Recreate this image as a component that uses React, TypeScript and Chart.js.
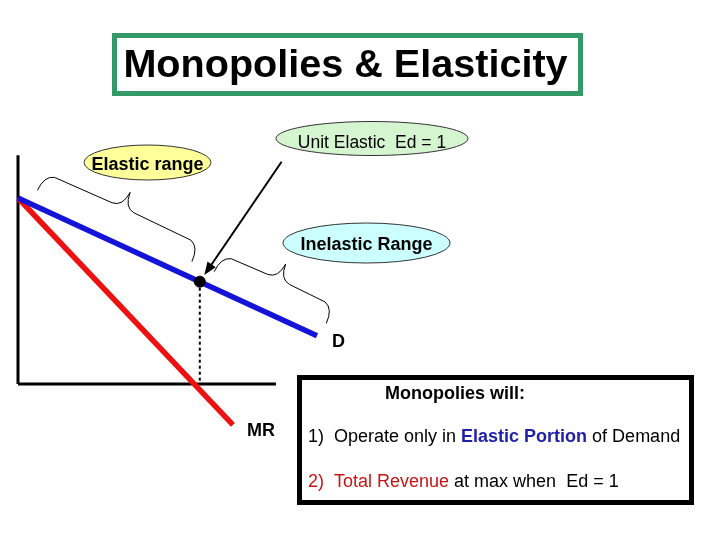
import React, { useEffect, useRef } from "react";
import { Chart, registerables } from "chart.js";

Chart.register(...registerables);

// ---- Data (Q = quantity, P = price) ----
const demandQ = [0, 14.8];
const demandP = [10, 2.6];
const mrQ = [0, 10.64];
const mrP = [10, -2.2];
const unitElasticQ = [9];
const unitElasticP = [5.5];
const priceAxisTop = 12.3;
const quantityAxisEnd = 12.77;
const elasticBraceQ = [0.65, 8.3];
const inelasticBraceQ = [9.4, 14.95];
const arrowStartQP = [13.05, 11.95];

const titleText = "Monopolies & Elasticity";
const unitLabel = "Unit Elastic  Ed = 1";
const elasticLabel = "Elastic range";
const inelasticLabel = "Inelastic Range";
const demandLabel = "D";
const mrLabel = "MR";
const boxHeading = "Monopolies will:";
const boxLine1 = [
  { t: "1)  Operate only in ", c: "#000000", b: false },
  { t: "Elastic Portion", c: "#1f1fa8", b: true },
  { t: " of Demand", c: "#000000", b: false },
];
const boxLine2 = [
  { t: "2)  Total Revenue", c: "#c81414", b: false },
  { t: " at max when  Ed = 1", c: "#000000", b: false },
];

// ---- Layout constants ----
const W = 720;
const H = 540;
const X_ORIGIN_PX = 18;
const Y_ORIGIN_PX = 384;
const PX_PER_Q = 20.2;
const PX_PER_P = 18.6;
const FONT = "'Liberation Sans', Arial, sans-serif";

const demandAt = (q: number) =>
  demandP[0] + ((demandP[1] - demandP[0]) * (q - demandQ[0])) / (demandQ[1] - demandQ[0]);

const pts = (xs: number[], ys: number[]) => xs.map((x, i) => ({ x, y: ys[i] }));

function drawEllipseLabel(ctx: CanvasRenderingContext2D, cx: number, cy: number, rx: number, ry: number, fill: string, text: string, bold: boolean, size: number, baseline: number) {
  ctx.save();
  ctx.beginPath();
  ctx.ellipse(cx, cy, rx, ry, 0, 0, Math.PI * 2);
  ctx.fillStyle = fill;
  ctx.fill();
  ctx.lineWidth = 1;
  ctx.strokeStyle = "#333333";
  ctx.stroke();
  ctx.fillStyle = "#000000";
  ctx.font = `${bold ? "bold " : ""}${size}px ${FONT}`;
  ctx.textAlign = "center";
  ctx.textBaseline = "alphabetic";
  ctx.fillText(text, cx, baseline);
  ctx.restore();
}

function drawBrace(ctx: CanvasRenderingContext2D, chart: any, q1: number, q2: number) {
  const xs = chart.scales.x;
  const ys = chart.scales.y;
  const ax = xs.getPixelForValue(q1);
  const ay = ys.getPixelForValue(demandAt(q1));
  const bx = xs.getPixelForValue(q2);
  const by = ys.getPixelForValue(demandAt(q2));
  const L = Math.hypot(bx - ax, by - ay);
  const ux = (bx - ax) / L;
  const uy = (by - ay) / L;
  const nx = uy;
  const ny = -ux;
  const P = (s: number, v: number): [number, number] => [ax + ux * s + nx * v, ay + uy * s + ny * v];
  const m = L / 2;
  ctx.save();
  ctx.beginPath();
  ctx.strokeStyle = "#000000";
  ctx.lineWidth = 1;
  let p = P(0, 15);
  ctx.moveTo(p[0], p[1]);
  let c = P(0, 31);
  p = P(10, 34);
  ctx.quadraticCurveTo(c[0], c[1], p[0], p[1]);
  p = P(m - 12, 35);
  ctx.lineTo(p[0], p[1]);
  c = P(m - 1, 36);
  p = P(m, 52);
  ctx.quadraticCurveTo(c[0], c[1], p[0], p[1]);
  c = P(m + 1, 36);
  p = P(m + 12, 35);
  ctx.quadraticCurveTo(c[0], c[1], p[0], p[1]);
  p = P(L - 10, 34);
  ctx.lineTo(p[0], p[1]);
  c = P(L, 31);
  p = P(L, 15);
  ctx.quadraticCurveTo(c[0], c[1], p[0], p[1]);
  ctx.stroke();
  ctx.restore();
}

const annotationPlugin = {
  id: "slideAnnotations",
  afterDatasetsDraw(chart: any) {
    const ctx: CanvasRenderingContext2D = chart.ctx;
    const xs = chart.scales.x;
    const ys = chart.scales.y;

    // Title box
    ctx.save();
    ctx.strokeStyle = "#339966";
    ctx.lineWidth = 5;
    ctx.strokeRect(114.5, 35.5, 466, 58);
    ctx.fillStyle = "#000000";
    ctx.font = `bold 39.6px ${FONT}`;
    ctx.textAlign = "center";
    ctx.textBaseline = "alphabetic";
    ctx.fillText(titleText, 345.5, 77);
    ctx.restore();

    // Ellipse labels
    drawEllipseLabel(ctx, 372, 138.5, 96, 17, "#d4f5d0", unitLabel, false, 17.5, 147.5);
    drawEllipseLabel(ctx, 147.5, 162.5, 63.5, 17.5, "#ffff99", elasticLabel, true, 18, 170);
    drawEllipseLabel(ctx, 366.5, 243, 83.5, 20, "#ccffff", inelasticLabel, true, 18, 250);

    // Braces
    drawBrace(ctx, chart, elasticBraceQ[0], elasticBraceQ[1]);
    drawBrace(ctx, chart, inelasticBraceQ[0], inelasticBraceQ[1]);

    // Arrow to unit elastic point
    const sx = xs.getPixelForValue(arrowStartQP[0]);
    const sy = ys.getPixelForValue(arrowStartQP[1]);
    const dx = xs.getPixelForValue(unitElasticQ[0]);
    const dy = ys.getPixelForValue(unitElasticP[0]);
    const len = Math.hypot(dx - sx, dy - sy);
    const ux = (dx - sx) / len;
    const uy = (dy - sy) / len;
    const tx = dx - ux * 8;
    const ty = dy - uy * 8;
    const head = 13;
    const half = 5;
    ctx.save();
    ctx.strokeStyle = "#000000";
    ctx.fillStyle = "#000000";
    ctx.lineWidth = 2;
    ctx.beginPath();
    ctx.moveTo(sx, sy);
    ctx.lineTo(tx - ux * head * 0.8, ty - uy * head * 0.8);
    ctx.stroke();
    ctx.beginPath();
    ctx.moveTo(tx, ty);
    ctx.lineTo(tx - ux * head - uy * half, ty - uy * head + ux * half);
    ctx.lineTo(tx - ux * head + uy * half, ty - uy * head - ux * half);
    ctx.closePath();
    ctx.fill();
    ctx.restore();

    // Curve labels
    ctx.save();
    ctx.fillStyle = "#000000";
    ctx.font = `bold 18px ${FONT}`;
    ctx.textAlign = "left";
    ctx.textBaseline = "alphabetic";
    ctx.fillText(demandLabel, 332, 347);
    ctx.fillText(mrLabel, 247, 436);
    ctx.restore();

    // Bottom box
    ctx.save();
    ctx.strokeStyle = "#000000";
    ctx.lineWidth = 5;
    ctx.strokeRect(299.5, 377.5, 392, 125);
    ctx.fillStyle = "#000000";
    ctx.font = `bold 18px ${FONT}`;
    ctx.textAlign = "center";
    ctx.textBaseline = "alphabetic";
    ctx.fillText(boxHeading, 455, 399);
    ctx.textAlign = "left";
    const drawSegs = (segs: { t: string; c: string; b: boolean }[], x: number, y: number) => {
      let cx = x;
      for (const s of segs) {
        ctx.font = `${s.b ? "bold " : ""}18px ${FONT}`;
        ctx.fillStyle = s.c;
        ctx.fillText(s.t, cx, y);
        cx += ctx.measureText(s.t).width;
      }
    };
    drawSegs(boxLine1, 308, 442);
    drawSegs(boxLine2, 308, 487);
    ctx.restore();
  },
};

export default function App() {
  const canvasRef = useRef<HTMLCanvasElement | null>(null);

  useEffect(() => {
    if (!canvasRef.current) return;
    const chart = new Chart(canvasRef.current, {
      type: "scatter",
      data: {
        datasets: [
          {
            label: "Unit elastic point",
            data: pts(unitElasticQ, unitElasticP),
            pointRadius: 5.5,
            pointBackgroundColor: "#000000",
            pointBorderColor: "#000000",
            showLine: false,
            order: 0,
          },
          {
            label: "Demand",
            data: pts(demandQ, demandP),
            showLine: true,
            borderColor: "#1414d8",
            borderWidth: 5.5,
            pointRadius: 0,
            order: 1,
          },
          {
            label: "MR",
            data: pts(mrQ, mrP),
            showLine: true,
            borderColor: "#ee1111",
            borderWidth: 5.5,
            pointRadius: 0,
            order: 2,
          },
          {
            label: "Q at Ed=1",
            data: [
              { x: unitElasticQ[0], y: unitElasticP[0] },
              { x: unitElasticQ[0], y: 0 },
            ],
            showLine: true,
            borderColor: "#000000",
            borderWidth: 2,
            borderDash: [3, 3],
            pointRadius: 0,
            order: 3,
          },
          {
            label: "Price axis",
            data: [
              { x: 0, y: 0 },
              { x: 0, y: priceAxisTop },
            ],
            showLine: true,
            borderColor: "#000000",
            borderWidth: 3,
            pointRadius: 0,
            order: 4,
          },
          {
            label: "Quantity axis",
            data: [
              { x: 0, y: 0 },
              { x: quantityAxisEnd, y: 0 },
            ],
            showLine: true,
            borderColor: "#000000",
            borderWidth: 3,
            pointRadius: 0,
            order: 5,
          },
        ],
      },
      options: {
        animation: false,
        responsive: false,
        devicePixelRatio: 1,
        layout: { padding: 0, autoPadding: false },
        plugins: {
          legend: { display: false },
          tooltip: { enabled: false },
          title: { display: false },
        },
        scales: {
          x: {
            type: "linear",
            display: false,
            min: -X_ORIGIN_PX / PX_PER_Q,
            max: (W - X_ORIGIN_PX) / PX_PER_Q,
          },
          y: {
            type: "linear",
            display: false,
            min: -(H - Y_ORIGIN_PX) / PX_PER_P,
            max: Y_ORIGIN_PX / PX_PER_P,
          },
        },
      },
      plugins: [annotationPlugin],
    });
    return () => chart.destroy();
  }, []);

  return (
    <div style={{ position: "fixed", left: 0, top: 0, width: W, height: H, background: "#ffffff" }}>
      <canvas ref={canvasRef} width={W} height={H} style={{ display: "block" }} />
    </div>
  );
}
